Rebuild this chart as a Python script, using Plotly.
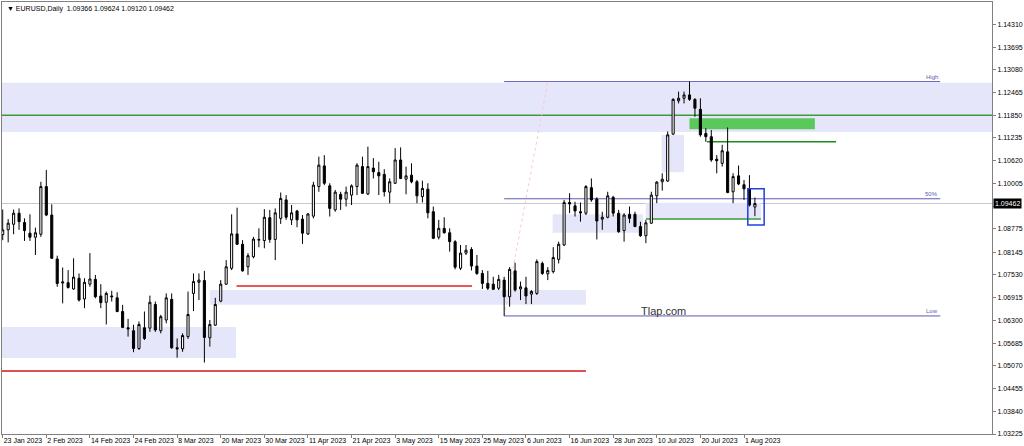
import pandas as pd
import plotly.graph_objects as go

# daily bars, EURUSD 23 Jan - 3 Aug 2023 (weekdays, as the broker feed has them)
dates = [d.strftime("%Y-%m-%d") for d in pd.bdate_range("2023-01-23", "2023-08-03")]

opens = [
    1.0862, 1.0875, 1.0890, 1.0920, 1.0895, 1.0866, 1.0855, 1.0863, 1.0992, 1.0915,
    1.0796, 1.0731, 1.0732, 1.0715, 1.0744, 1.0688, 1.0728, 1.0741, 1.0696, 1.0679,
    1.0696, 1.0691, 1.0654, 1.0610, 1.0602, 1.0554, 1.0610, 1.0609, 1.0673, 1.0602,
    1.0631, 1.0687, 1.0556, 1.0553, 1.0586, 1.0703, 1.0733, 1.0738, 1.0583, 1.0617,
    1.0682, 1.0728, 1.0771, 1.0864, 1.0836, 1.0775, 1.0802, 1.0847, 1.0846, 1.0908,
    1.0849, 1.0906, 1.0956, 1.0902, 1.0926, 1.0904, 1.0864, 1.0912, 1.0992, 1.1048,
    1.0994, 1.0929, 1.0971, 1.0958, 1.0969, 1.0992, 1.1046, 1.0972, 1.1042, 1.1030,
    1.1025, 1.0977, 1.1001, 1.1064, 1.1012, 1.1023, 1.1005, 1.0965, 1.0985, 1.0924,
    1.0855, 1.0879, 1.0867, 1.0843, 1.0771, 1.0812, 1.0822, 1.0777, 1.0757, 1.0730,
    1.0728, 1.0717, 1.0739, 1.0694, 1.0764, 1.0715, 1.0718, 1.0701, 1.0703, 1.0784,
    1.0756, 1.0762, 1.0795, 1.0834, 1.0949, 1.0940, 1.0924, 1.0920, 1.0989, 1.0958,
    1.0904, 1.0909, 1.0963, 1.0920, 1.0873, 1.0917, 1.0917, 1.0884, 1.0859, 1.0893,
    1.0967, 1.1005, 1.1007, 1.1134, 1.1224, 1.1231, 1.1240, 1.1228, 1.1201, 1.1136,
    1.1127, 1.1066, 1.1055, 1.1086, 1.0978, 1.1021, 1.0997, 1.0986, 1.09366,
]
highs = [
    1.0930, 1.0904, 1.0930, 1.0933, 1.0906, 1.0917, 1.0881, 1.1005, 1.1037, 1.0944,
    1.0805, 1.0773, 1.0766, 1.0798, 1.0757, 1.0744, 1.0812, 1.0753, 1.0728, 1.0708,
    1.0710, 1.0706, 1.0672, 1.0634, 1.0618, 1.0627, 1.0654, 1.0697, 1.0681, 1.0645,
    1.0703, 1.0703, 1.0581, 1.0595, 1.0708, 1.0757, 1.0757, 1.0764, 1.0631, 1.0691,
    1.0739, 1.0793, 1.0917, 1.0935, 1.0847, 1.0812, 1.0856, 1.0879, 1.0931, 1.0929,
    1.0933, 1.0976, 1.0969, 1.0942, 1.0929, 1.0915, 1.0920, 1.1005, 1.1073, 1.1077,
    1.1001, 1.0983, 1.0978, 1.0992, 1.0998, 1.1055, 1.1073, 1.1100, 1.1069, 1.1059,
    1.1039, 1.1014, 1.1096, 1.1098, 1.1046, 1.1055, 1.1010, 1.1008, 1.1001, 1.0938,
    1.0902, 1.0909, 1.0879, 1.0847, 1.0834, 1.0834, 1.0828, 1.0807, 1.0766, 1.0764,
    1.0748, 1.0753, 1.0748, 1.0774, 1.0786, 1.0735, 1.0748, 1.0712, 1.0795, 1.0789,
    1.0774, 1.0828, 1.0843, 1.0956, 1.0974, 1.0951, 1.0949, 1.0996, 1.1014, 1.0963,
    1.0924, 1.0978, 1.0967, 1.0929, 1.0920, 1.0938, 1.0924, 1.0897, 1.0902, 1.0978,
    1.1007, 1.1028, 1.1141, 1.1231, 1.1249, 1.1249, 1.1276, 1.1231, 1.1231, 1.1150,
    1.1145, 1.1077, 1.1105, 1.1152, 1.1028, 1.1049, 1.1010, 1.1023, 1.09624,
]
lows = [
    1.0847, 1.0841, 1.0863, 1.0875, 1.0845, 1.0845, 1.0807, 1.0856, 1.0912, 1.0796,
    1.0721, 1.0676, 1.0716, 1.0713, 1.0681, 1.0663, 1.0721, 1.0690, 1.0663, 1.0619,
    1.0681, 1.0652, 1.0609, 1.0586, 1.0544, 1.0550, 1.0577, 1.0599, 1.0599, 1.0595,
    1.0622, 1.0553, 1.0529, 1.0545, 1.0580, 1.0655, 1.0685, 1.0516, 1.0559, 1.0615,
    1.0679, 1.0726, 1.0766, 1.0834, 1.0762, 1.0753, 1.0798, 1.0828, 1.0825, 1.0840,
    1.0793, 1.0891, 1.0902, 1.0888, 1.0882, 1.0837, 1.0861, 1.0906, 1.0978, 1.0996,
    1.0911, 1.0924, 1.0929, 1.0938, 1.0942, 1.0969, 1.0972, 1.0969, 1.1014, 1.0969,
    1.0965, 1.0947, 1.0999, 1.1012, 1.0971, 1.1001, 1.0947, 1.0949, 1.0906, 1.0850,
    1.0849, 1.0865, 1.0816, 1.0768, 1.0766, 1.0807, 1.0765, 1.0753, 1.0715, 1.0712,
    1.0712, 1.0712, 1.0642, 1.0667, 1.0708, 1.0685, 1.0674, 1.0674, 1.0699, 1.0753,
    1.0739, 1.0757, 1.0784, 1.0831, 1.0920, 1.0911, 1.0897, 1.0915, 1.0951, 1.0849,
    1.0875, 1.0906, 1.0911, 1.0867, 1.0843, 1.0893, 1.0882, 1.0856, 1.0839, 1.0891,
    1.0947, 1.0981, 1.1005, 1.1132, 1.1217, 1.1217, 1.1224, 1.1181, 1.1127, 1.1113,
    1.1059, 1.1028, 1.1046, 1.0974, 1.0947, 1.0996, 1.0956, 1.0938, 1.09120,
]
closes = [
    1.0875, 1.0893, 1.0920, 1.0897, 1.0873, 1.0855, 1.0867, 1.0992, 1.0915, 1.0798,
    1.0730, 1.0734, 1.0719, 1.0747, 1.0685, 1.0733, 1.0742, 1.0694, 1.0678, 1.0703,
    1.0694, 1.0654, 1.0611, 1.0607, 1.0554, 1.0619, 1.0581, 1.0679, 1.0604, 1.0640,
    1.0691, 1.0556, 1.0553, 1.0589, 1.0646, 1.0735, 1.0739, 1.0584, 1.0619, 1.0673,
    1.0728, 1.0775, 1.0864, 1.0836, 1.0764, 1.0805, 1.0850, 1.0849, 1.0909, 1.0849,
    1.0921, 1.0960, 1.0909, 1.0921, 1.0902, 1.0866, 1.0918, 1.0996, 1.1050, 1.1001,
    1.0933, 1.0977, 1.0958, 1.0977, 1.0994, 1.1050, 1.0974, 1.1046, 1.1032, 1.1021,
    1.0978, 1.1005, 1.1064, 1.1014, 1.1021, 1.1005, 1.0967, 1.0987, 1.0921, 1.0852,
    1.0879, 1.0867, 1.0843, 1.0774, 1.0812, 1.0820, 1.0777, 1.0757, 1.0730, 1.0717,
    1.0714, 1.0741, 1.0694, 1.0768, 1.0712, 1.0721, 1.0696, 1.0708, 1.0789, 1.0757,
    1.0765, 1.0800, 1.0836, 1.0949, 1.0945, 1.0926, 1.0921, 1.0992, 1.0956, 1.0899,
    1.0909, 1.0967, 1.0920, 1.0870, 1.0915, 1.0906, 1.0884, 1.0859, 1.0894, 1.0969,
    1.1004, 1.1012, 1.1132, 1.1228, 1.1231, 1.1240, 1.1228, 1.1204, 1.1132, 1.1127,
    1.1064, 1.1062, 1.1089, 1.0976, 1.1019, 1.0999, 1.0986, 1.0942, 1.09462,
]

price_ticks = [1.03225, 1.03840, 1.04455, 1.05070, 1.05685, 1.06300, 1.06915,
               1.07530, 1.08145, 1.08775, 1.09390, 1.10005, 1.10620, 1.11235,
               1.11850, 1.12465, 1.13080, 1.13695, 1.14310]

# levels drawn on the chart
fib_high, fib_low = 1.1276, 1.0642
fib_mid = (fib_high + fib_low) / 2
last_price = closes[-1]

tick_idx = list(range(0, len(dates), 8))
tick_text = [pd.Timestamp(dates[i]).strftime("%-d %b %Y") for i in tick_idx]
# the tick under the bid label is hidden by it in the terminal
price_text = ["" if abs(v - last_price) < 0.002 else f"{v:.5f}" for v in price_ticks]

LAV = "#e6e6fa"
GREEN = "#3c9a3c"
FIBC = "#5a5ab4"
FONT = "Liberation Sans"

fig = go.Figure()
fig.add_trace(go.Candlestick(
    x=dates, open=opens, high=highs, low=lows, close=closes,
    increasing=dict(line=dict(color="black", width=1), fillcolor="white"),
    decreasing=dict(line=dict(color="black", width=1), fillcolor="black"),
    whiskerwidth=0, showlegend=False, hoverinfo="x+y",
))


def zone(x0, x1, y0, y1, color=LAV, xref="x"):
    fig.add_shape(type="rect", xref=xref, yref="y", x0=x0, x1=x1, y0=y0, y1=y1,
                  fillcolor=color, line=dict(width=0), layer="below")


def hline(x0, x1, y, color, width=1, dash="solid", xref="x"):
    fig.add_shape(type="line", xref=xref, yref="y", x0=x0, x1=x1, y0=y, y1=y,
                  line=dict(color=color, width=width, dash=dash), layer="below")


# supply / demand zones
zone(0, 1, 1.1140, 1.1273, xref="paper")
zone(-1, 42.8, 1.0528, 1.0612)
zone(38.0, 107.0, 1.0672, 1.0712)
zone(100.9, 117.5, 1.0867, 1.0917)
zone(118.0, 139.1, 1.0904, 1.0948)
zone(120.9, 125.0, 1.1031, 1.1132)
zone(126.0, 149.0, 1.1147, 1.1177, color="#5ac85a")

# current price line
hline(0, 1, last_price, "#c8c8c8", xref="paper")

# horizontal levels
hline(0, 1, 1.1185, GREEN, width=1.5, xref="paper")
hline(129.2, 152.9, 1.1113, "#1f8a1f", width=1.5)
hline(118.0, 139.1, 1.0904, GREEN, width=1.5)
hline(42.9, 86.1, 1.0723, "#e02020", width=1.5)
hline(-1, 107.0, 1.0493, "#d01818", width=1.5)

# fibonacci retracement
for lvl in (fib_high, fib_mid, fib_low):
    hline(92.0, 172.0, lvl, FIBC)
fig.add_shape(type="line", xref="x", yref="y", x0=92.0, x1=100.0, y0=fib_low, y1=fib_high,
              line=dict(color="#f8caca", width=1, dash="dot"), layer="below")
for lvl, lab in ((fib_high, "High"), (fib_mid, "50%"), (fib_low, "Low")):
    fig.add_annotation(x=172.0, y=lvl, text=lab, showarrow=False, xanchor="right",
                       yanchor="bottom", font=dict(family=FONT, size=6, color=FIBC))

# highlight box on the last bars
fig.add_shape(type="rect", xref="x", yref="y", x0=136.7, x1=139.7, y0=1.0888, y1=1.0986,
              line=dict(color="#2040e0", width=1.5))

fig.add_annotation(x=121.3, y=1.0655, text="Tlap.com", showarrow=False,
                   font=dict(family=FONT, size=11, color="#333333"))

fig.add_annotation(xref="paper", yref="paper", x=0, y=1, xanchor="left", yanchor="top",
                   xshift=3, yshift=-1, showarrow=False,
                   text="▼ EURUSD,Daily  1.09366 1.09624 1.09120 1.09462",
                   font=dict(family=FONT, size=7, color="black"))

fig.add_annotation(xref="paper", yref="y", x=1, y=last_price, xanchor="left", xshift=1,
                   showarrow=False, text=f"{last_price:.5f}", bgcolor="black",
                   borderpad=1, font=dict(family=FONT, size=7, color="white"))

fig.update_layout(
    width=1024, height=446,
    margin=dict(l=2, r=32, t=2, b=12),
    paper_bgcolor="white", plot_bgcolor="white",
    boxgap=0.45,
    showlegend=False,
    xaxis=dict(
        type="category", range=[-0.13, 181.5], automargin=False,
        tickmode="array", tickvals=[dates[i] for i in tick_idx], ticktext=tick_text,
        tickangle=0,
        ticks="outside", ticklen=3, tickcolor="#808080",
        ticklabelposition="outside right", ticklabelstandoff=0,
        showgrid=False, zeroline=False,
        showline=True, mirror=True, linecolor="#808080", linewidth=1,
        rangeslider=dict(visible=False),
        tickfont=dict(family=FONT, size=7, color="black"),
    ),
    yaxis=dict(
        side="right", range=[1.03226, 1.14914], automargin=False,
        tickmode="array", tickvals=price_ticks, ticktext=price_text,
        ticks="outside", ticklen=3, tickcolor="#808080", ticklabelstandoff=0,
        showgrid=False, zeroline=False,
        showline=True, mirror=True, linecolor="#808080", linewidth=1,
        tickfont=dict(family=FONT, size=7, color="black"),
    ),
)

# the page body has a default 8px margin; drop it so the figure fills the window
fig.write_html("out.html", config={"displayModeBar": False},
               post_script="document.body.style.margin='0';")
